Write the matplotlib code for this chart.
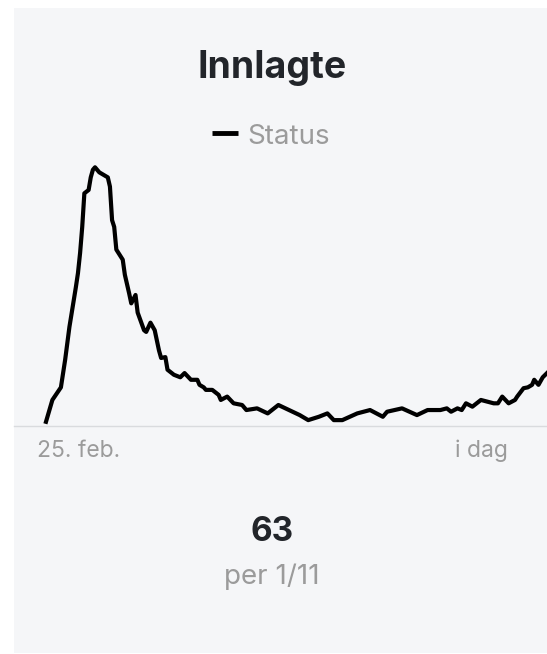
import matplotlib

matplotlib.use("Agg")
import matplotlib.pyplot as plt
import pandas as pd
from matplotlib.patches import Rectangle

plt.rcParams["font.family"] = ["Inter", "DejaVu Sans"]

# Innlagte (hospitalised)
dates = [
    "2020-03-11", "2020-03-14", "2020-03-18", "2020-03-20", "2020-03-22",
    "2020-03-25", "2020-03-26", "2020-03-27", "2020-03-28", "2020-03-29",
    "2020-03-31", "2020-04-01", "2020-04-02", "2020-04-03", "2020-04-05",
    "2020-04-07", "2020-04-09", "2020-04-10", "2020-04-11", "2020-04-12",
    "2020-04-13", "2020-04-16", "2020-04-17", "2020-04-19", "2020-04-20",
    "2020-04-22", "2020-04-23", "2020-04-26", "2020-04-27", "2020-04-29",
    "2020-05-01", "2020-05-03", "2020-05-04", "2020-05-06", "2020-05-07",
    "2020-05-10", "2020-05-13", "2020-05-15", "2020-05-18", "2020-05-21",
    "2020-05-22", "2020-05-24", "2020-05-25", "2020-05-28", "2020-05-31",
    "2020-06-01", "2020-06-04", "2020-06-07", "2020-06-11", "2020-06-13",
    "2020-06-18", "2020-06-23", "2020-06-28", "2020-07-03", "2020-07-08",
    "2020-07-12", "2020-07-17", "2020-07-21", "2020-07-24", "2020-07-28",
    "2020-08-04", "2020-08-10", "2020-08-16", "2020-08-18", "2020-08-25",
    "2020-09-01", "2020-09-06", "2020-09-12", "2020-09-15", "2020-09-17",
    "2020-09-20", "2020-09-22", "2020-09-24", "2020-09-27", "2020-10-01",
    "2020-10-04", "2020-10-07", "2020-10-09", "2020-10-11", "2020-10-14",
    "2020-10-17", "2020-10-18", "2020-10-21", "2020-10-23", "2020-10-25",
    "2020-10-26", "2020-10-28", "2020-10-30", "2020-11-01",
]
admitted = [
    5, 31, 46, 79, 118,
    165, 182, 206, 237, 277,
    281, 296, 305, 308, 302,
    299, 296, 285, 245, 237,
    210, 198, 180, 158, 146,
    156, 135, 114, 112, 123,
    114, 90, 81, 82, 67,
    61, 58, 63, 55, 55,
    49, 46, 43, 43, 37,
    31, 35, 27, 25, 19,
    21, 15, 25, 19, 13,
    7, 11, 15, 7, 7,
    15, 19, 11, 17, 21,
    13, 19, 19, 21, 17,
    21, 19, 27, 23, 31,
    29, 27, 27, 35, 27,
    31, 35, 45, 46, 49,
    55, 49, 58, 63,
]
start_date = "2020-02-25"
end_date = "2020-11-01"
start_label = "25. feb."
end_label = "i dag"
title = "Innlagte"
legend_label = "Status"
latest_value = "63"
latest_note = "per 1/11"

W, H = 547, 654
fig = plt.figure(figsize=(W / 100, H / 100), dpi=100, facecolor="white")
fig.patches.append(
    Rectangle((14 / W, 1 - 653 / H), 1, (653 - 8) / H,
              transform=fig.transFigure, facecolor="#f5f6f8",
              edgecolor="none", zorder=-10)
)

ax = fig.add_axes([14 / W, 1 - 426 / H, 533 / W, 266 / H])
ax.set_zorder(1)
ax.set_facecolor("none")
x = pd.to_datetime(dates)
ax.plot(x, admitted, color="black", lw=3.0, solid_joinstyle="round",
        clip_on=False, zorder=3)
ax.set_xlim(pd.Timestamp(start_date), pd.Timestamp(end_date))
ax.set_ylim(0, 266 / 0.84)
ax.axhline(0, color="#d9dbde", lw=1, clip_on=False, zorder=2)
for s in ax.spines.values():
    s.set_visible(False)
ax.set_xticks([])
ax.set_yticks([])

grey = "#9b9b9b"
dark = "#22252a"
ax.annotate(start_label, xy=(pd.Timestamp(start_date), 0), xytext=(23, -31),
            textcoords="offset pixels", ha="left", va="baseline",
            fontsize=16.5, color=grey, annotation_clip=False)
ax.annotate(end_label, xy=(pd.Timestamp(end_date), 0), xytext=(-39, -31),
            textcoords="offset pixels", ha="right", va="baseline",
            fontsize=16.5, color=grey, annotation_clip=False)

cx = 272 / W
fig.text(cx, 1 - 78 / H, title, ha="center", va="baseline",
         fontsize=27, fontweight="bold", color=dark)
fig.lines.append(plt.Line2D([212 / W, 238 / W], [1 - 133 / H] * 2,
                            transform=fig.transFigure, color="black", lw=3.5,
                            solid_capstyle="butt"))
fig.text(247 / W, 1 - 144 / H, legend_label, ha="left", va="baseline",
         fontsize=20, color=grey)
fig.text(cx, 1 - 541 / H, latest_value, ha="center", va="baseline",
         fontsize=24, fontweight="bold", color=dark)
fig.text(cx, 1 - 584 / H, latest_note, ha="center", va="baseline",
         fontsize=20, color=grey)

fig.savefig("out.png", dpi=100, facecolor="white")
